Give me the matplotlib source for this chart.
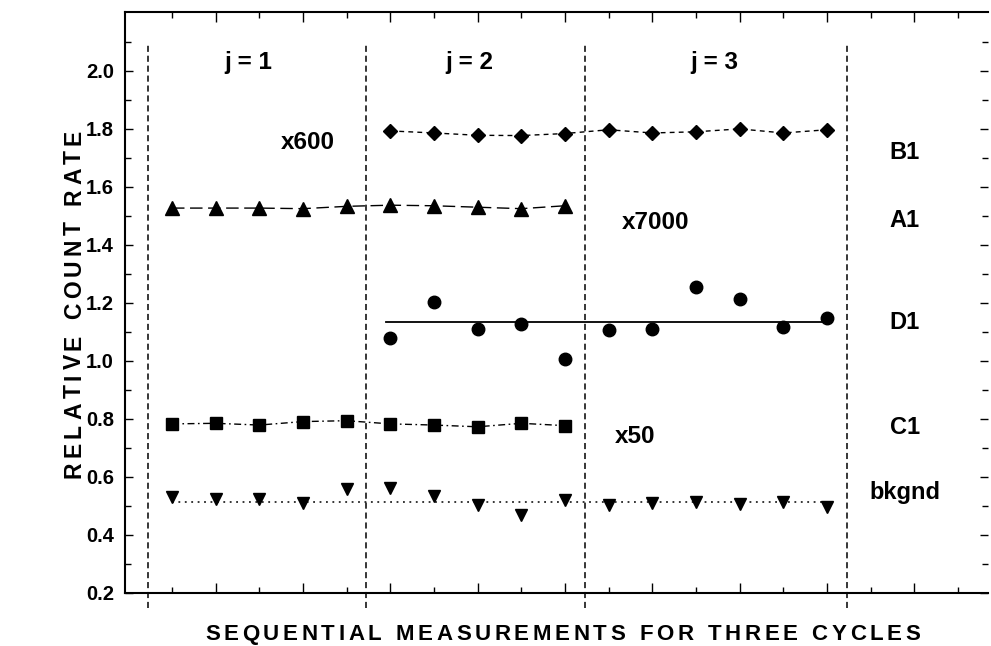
import numpy as np
import matplotlib
matplotlib.use("Agg")
import matplotlib.pyplot as plt
from matplotlib.font_manager import FontProperties

plt.rcParams['font.family'] = ['Liberation Sans', 'DejaVu Sans']
plt.rcParams['font.weight'] = 'bold'

# measurement index (1..19 ticks), cycles split by dashed lines
cycle_edges = [0.45, 5.45, 10.45, 16.45]
cycle_labels = ['j = 1', 'j = 2', 'j = 3']

b1_x = np.arange(6, 17)
b1_y = [1.793, 1.786, 1.778, 1.777, 1.784, 1.797, 1.786, 1.790, 1.800, 1.786, 1.797]

a1_x = np.arange(1, 11)
a1_y = [1.527, 1.527, 1.527, 1.525, 1.533, 1.537, 1.535, 1.530, 1.525, 1.535]

d1_x = np.arange(6, 17)
d1_y = [1.080, 1.204, 1.110, 1.128, 1.006, 1.107, 1.110, 1.254, 1.213, 1.117, 1.147]
d1_level = 1.135

c1_x = np.arange(1, 11)
c1_y = [0.783, 0.785, 0.779, 0.791, 0.794, 0.783, 0.779, 0.773, 0.785, 0.777]

bk_x = np.arange(1, 17)
bk_y = [0.532, 0.523, 0.523, 0.509, 0.558, 0.563, 0.534, 0.503, 0.469, 0.521,
        0.503, 0.509, 0.515, 0.506, 0.515, 0.496]
bk_level = 0.515

series_names = ['B1', 'A1', 'D1', 'C1', 'bkgnd']
series_label_y = [1.72, 1.483, 1.134, 0.769, 0.545]
factor_labels = ['x600', 'x7000', 'x50']
factor_pos = [(4.11, 1.752), (12.08, 1.479), (11.6, 0.738)]
cycle_label_x = [2.74, 7.82, 13.43]

W, H = 991, 646
fig = plt.figure(figsize=(W / 100, H / 100), dpi=100)
ax = fig.add_axes([125 / W, 53 / H, (988 - 125) / W, (593 - 12) / H])
ax.set_xlim(-0.076, 19.69)
ax.set_ylim(0.2, 2.203)

# data
ax.plot(b1_x, b1_y, color='black', lw=1, ls=(0, (3.5, 3)), marker='D', ms=7.5)
ax.plot(a1_x, a1_y, color='black', lw=1, ls=(0, (9, 4)), marker='^', ms=9.5)
ax.plot(d1_x, d1_y, color='black', lw=0, marker='o', ms=9)
ax.plot([d1_x[0] - 0.1, d1_x[-1] + 0.1], [d1_level, d1_level], color='black', lw=1.3)
ax.plot(c1_x, c1_y, color='black', lw=1, ls=(0, (5, 2.5, 1.2, 2.5)), marker='s', ms=8.5)
ax.plot(bk_x, bk_y, color='black', lw=0, marker='v', ms=8)
ax.plot([bk_x[0], bk_x[-1]], [bk_level, bk_level], color='black', lw=1.1, ls=(0, (1.2, 3)))

# cycle separators, running past the bottom spine
for xe in cycle_edges:
    ax.plot([xe, xe], [0.148, 2.10], color='black', lw=1.1, ls=(0, (4, 2.5)), clip_on=False)

for m, lab in zip(cycle_label_x, cycle_labels):
    ax.text(m, 2.028, lab, ha='center', va='center', fontsize=17.5, fontweight='bold')

for (fx, fy), lab in zip(factor_pos, factor_labels):
    ax.text(fx, fy, lab, ha='center', va='center', fontsize=17.5, fontweight='bold')

for name, yy in zip(series_names, series_label_y):
    ax.text(17.78, yy, name, ha='center', va='center', fontsize=17, fontweight='bold')

# axes styling
ax.spines['right'].set_visible(False)
for s in ['left', 'top', 'bottom']:
    ax.spines[s].set_linewidth(1.5)
ax.set_yticks(np.arange(0.2, 2.01, 0.2))
ax.set_yticks(np.arange(0.3, 2.2, 0.2), minor=True)
ax.set_yticklabels([f'{v:.1f}' for v in np.arange(0.2, 2.01, 0.2)])
ax.set_xticks(np.arange(2, 20, 2))
ax.set_xticks(np.arange(1, 20, 2), minor=True)
ax.tick_params(axis='x', which='major', direction='in', length=7, width=1,
               top=True, bottom=True, labelbottom=False)
ax.tick_params(axis='x', which='minor', direction='in', length=4, width=1,
               top=True, bottom=True)
ax.tick_params(axis='y', which='major', direction='in', length=6, width=1,
               left=True, right=True, pad=8, labelsize=14.5)
ax.tick_params(axis='y', which='minor', direction='in', length=4, width=1,
               left=True, right=True)
for lab in ax.get_yticklabels():
    lab.set_fontweight('bold')


def spaced_text(s, start, end, base, size, vertical=False):
    # lay characters out one by one so the string fills start..end (pixels)
    renderer = fig.canvas.get_renderer()
    fp = FontProperties(family='Liberation Sans', weight='bold', size=size)
    widths = []
    for ch in s:
        if ch == ' ':
            widths.append(size * 100 / 72 * 0.3)
        else:
            w, _, _ = renderer.get_text_width_height_descent(ch, fp, ismath=False)
            widths.append(w)
    gap = (end - start - sum(widths)) / (len(s) - 1)
    pos = start
    for ch, w in zip(s, widths):
        c = pos + w / 2
        if vertical:
            fig.text(base / W, c / H, ch, rotation=90, rotation_mode='anchor',
                     ha='center', va='baseline', fontproperties=fp)
        else:
            fig.text(c / W, base / H, ch, rotation_mode='anchor',
                     ha='center', va='baseline', fontproperties=fp)
        pos += w + gap


fig.canvas.draw()
spaced_text('SEQUENTIAL MEASUREMENTS FOR THREE CYCLES', 205, 920, 6, 16)
spaced_text('RELATIVE COUNT RATE', 646 - 478, 646 - 130, 81, 16.5, vertical=True)

fig.savefig('out.png', dpi=100)
